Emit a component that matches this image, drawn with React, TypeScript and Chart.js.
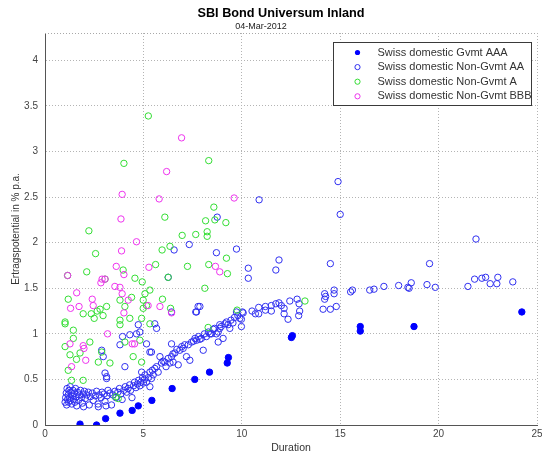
import { useEffect, useRef } from "react";
import { Chart, registerables } from "chart.js";

Chart.register(...registerables);

const TITLE = "SBI Bond Universum Inland";
const SUBTITLE = "04-Mar-2012";
const X_LABEL = "Duration";
const Y_LABEL = "Ertragspotential in % p.a.";
const SERIES_NAMES = [
  "Swiss domestic Gvmt AAA",
  "Swiss domestic Non-Gvmt AA",
  "Swiss domestic Non-Gvmt A",
  "Swiss domestic Non-Gvmt BBB",
];
const X_TICKS = [0, 5, 10, 15, 20, 25];
const Y_TICKS = [0, 0.5, 1, 1.5, 2, 2.5, 3, 3.5, 4];
const X_MAX = 25;
const Y_MAX = 4.3;

// [duration, yield potential]
const gvmtAAA: number[][] = [
  [1.78, 0.01], [2.62, 0.0], [3.08, 0.07], [3.81, 0.13], [4.43, 0.16], [4.74, 0.21],
  [5.43, 0.27], [6.46, 0.4], [7.61, 0.5], [8.36, 0.58], [9.26, 0.68], [9.32, 0.74],
  [12.52, 0.96], [12.57, 0.98], [16.02, 1.03], [16.02, 1.08], [18.75, 1.08], [24.23, 1.24],
];

const nonGvmtAA: number[][] = [
  [1.02, 0.25], [1.05, 0.3], [1.08, 0.35], [1.1, 0.22], [1.12, 0.4], [1.15, 0.28], [1.18, 0.33],
  [1.2, 0.25], [1.22, 0.38], [1.25, 0.3], [1.28, 0.42], [1.3, 0.27], [1.33, 0.35], [1.36, 0.23],
  [1.4, 0.32], [1.42, 0.38], [1.45, 0.28], [1.5, 0.35], [1.52, 0.25], [1.55, 0.4], [1.6, 0.31],
  [1.61, 0.21], [1.65, 0.36], [1.7, 0.27], [1.75, 0.33], [1.8, 0.38], [1.85, 0.3], [1.9, 0.24],
  [1.95, 0.34], [1.96, 0.2], [2.0, 0.37], [2.05, 0.29], [2.12, 0.33], [2.2, 0.36], [2.25, 0.22],
  [2.3, 0.31], [2.4, 0.35], [2.45, 0.27], [2.55, 0.32], [2.62, 0.37], [2.7, 0.23], [2.71, 0.2],
  [2.75, 0.33], [2.85, 0.3], [2.9, 0.36], [3.0, 0.34], [3.05, 0.26], [3.1, 0.21], [3.15, 0.32],
  [3.2, 0.38], [3.3, 0.35], [3.38, 0.22], [3.45, 0.33], [3.55, 0.37], [3.6, 0.3], [3.7, 0.36],
  [3.78, 0.4], [3.85, 0.34], [3.92, 0.28], [4.0, 0.38], [4.08, 0.42], [4.15, 0.36], [4.22, 0.4],
  [4.3, 0.44], [4.35, 0.38], [4.42, 0.3], [4.5, 0.43], [4.55, 0.47], [4.62, 0.41], [4.7, 0.45],
  [4.75, 0.49], [4.82, 0.43], [4.88, 0.47], [4.95, 0.52], [5.0, 0.46], [5.05, 0.5],
  [3.05, 0.57], [3.13, 0.53], [3.13, 0.51], [4.06, 0.64], [4.91, 0.58], [2.96, 0.75], [2.88, 0.82],
  [3.81, 0.88], [3.94, 0.97], [4.31, 0.99], [4.65, 1.0], [4.74, 1.1], [4.82, 1.02], [5.16, 0.89],
  [5.33, 0.8], [5.41, 0.8],
  [5.08, 0.55], [5.16, 0.47], [5.25, 0.52], [5.33, 0.58], [5.33, 0.42], [5.41, 0.51], [5.45, 0.6],
  [5.5, 0.55], [5.58, 0.62], [5.67, 0.64], [5.75, 0.58], [5.84, 0.75], [5.92, 0.68], [6.0, 0.7],
  [6.09, 0.69], [6.15, 0.64], [6.26, 0.73], [6.35, 0.68], [6.43, 0.75], [6.5, 0.78], [6.51, 0.69],
  [6.6, 0.79], [6.7, 0.83], [6.77, 0.66], [6.85, 0.82], [6.95, 0.86], [7.02, 0.84], [7.1, 0.88],
  [7.19, 0.75], [7.28, 0.88], [7.36, 0.71], [7.45, 0.91], [7.55, 0.92], [7.62, 0.95], [7.7, 0.93],
  [7.8, 0.97], [7.87, 0.94], [7.95, 0.95], [8.04, 0.82], [8.1, 1.0], [8.2, 0.97], [8.3, 1.02],
  [8.38, 1.0], [8.46, 1.0], [8.55, 1.05], [8.62, 1.06], [8.71, 1.0], [8.8, 1.02], [8.8, 0.91],
  [8.88, 1.1], [8.88, 1.06], [8.95, 1.08], [9.05, 0.95], [9.14, 1.11], [9.22, 1.13], [9.3, 1.1],
  [9.39, 1.06], [9.45, 1.15], [9.55, 1.12], [9.63, 1.18], [9.73, 1.24], [9.8, 1.2], [9.9, 1.17],
  [9.98, 1.16], [9.98, 1.08], [10.03, 1.24],
  [5.58, 1.11], [5.67, 1.06], [6.43, 0.89], [6.43, 1.24], [6.26, 1.62], [7.66, 1.24], [7.7, 1.24],
  [7.78, 1.3], [7.87, 1.3],
  [8.75, 2.28], [7.33, 1.98], [6.56, 1.92], [8.71, 1.89], [9.73, 1.93], [10.33, 1.72], [10.33, 1.61],
  [10.88, 2.47], [11.89, 1.81], [11.73, 1.7], [14.5, 1.77], [14.89, 2.67], [15.0, 2.31],
  [10.07, 1.23], [10.52, 1.25], [10.69, 1.22], [10.86, 1.29], [10.86, 1.22], [11.2, 1.3],
  [11.2, 1.26], [11.5, 1.31], [11.5, 1.25], [11.73, 1.33], [11.89, 1.34], [12.01, 1.31],
  [12.15, 1.28], [12.15, 1.22], [12.35, 1.16], [12.44, 1.36], [12.81, 1.38], [12.91, 1.33],
  [12.94, 1.25], [12.89, 1.2], [14.13, 1.27], [14.21, 1.44], [14.21, 1.38], [14.26, 1.41],
  [14.5, 1.27], [14.69, 1.48], [14.69, 1.44], [14.8, 1.3], [15.53, 1.46], [15.62, 1.48],
  [16.5, 1.48], [16.72, 1.49], [17.22, 1.52], [17.97, 1.53], [18.44, 1.51], [18.5, 1.5],
  [18.61, 1.56], [19.41, 1.54], [19.54, 1.77], [19.83, 1.51], [21.49, 1.52], [21.83, 1.6],
  [21.9, 2.04], [22.2, 1.61], [22.39, 1.62], [22.62, 1.55], [22.96, 1.55], [23.01, 1.62],
  [23.77, 1.57],
];

const nonGvmtA: number[][] = [
  [5.25, 3.39], [4.01, 2.87], [8.32, 2.9], [8.58, 2.39], [6.09, 2.28], [2.23, 2.13], [8.16, 2.24],
  [8.63, 2.25], [9.19, 2.22], [6.97, 2.08], [7.66, 2.09], [8.24, 2.12], [8.24, 2.07], [6.35, 1.96],
  [5.95, 1.92], [2.57, 1.88], [2.12, 1.68], [7.24, 1.74], [8.32, 1.76], [9.22, 1.83], [9.27, 1.66],
  [5.62, 1.76], [3.97, 1.7], [4.57, 1.61], [4.94, 1.57], [8.12, 1.5], [5.33, 1.48], [5.08, 1.44],
  [5.97, 1.38], [1.18, 1.38], [4.4, 1.4], [3.81, 1.37], [1.15, 1.64], [6.26, 1.62], [3.05, 1.6],
  [1.94, 1.22], [2.35, 1.22], [2.5, 1.17], [2.65, 1.25], [2.8, 1.27], [2.95, 1.2], [3.13, 1.3],
  [1.02, 1.11], [1.02, 1.13], [1.44, 1.04], [1.44, 0.95], [1.02, 0.86], [1.27, 0.77], [1.78, 0.79],
  [1.6, 0.72], [1.18, 0.6], [1.35, 0.49], [1.94, 0.49], [2.28, 0.91], [2.71, 0.69], [2.88, 0.8],
  [3.3, 0.68], [3.81, 1.1], [3.81, 1.15], [4.31, 1.17], [4.06, 0.91], [4.48, 0.75], [4.82, 0.93],
  [3.72, 0.29], [3.6, 0.31], [4.06, 1.3], [4.99, 1.28], [4.99, 1.37], [5.16, 1.31], [4.91, 1.17],
  [5.33, 1.11], [6.38, 1.28], [4.91, 0.69], [9.76, 1.26], [8.29, 1.07], [13.21, 1.36],
];

const nonGvmtBBB: number[][] = [
  [6.94, 3.15], [6.18, 2.78], [3.92, 2.53], [5.8, 2.48], [9.61, 2.49], [3.86, 2.26], [4.65, 2.01],
  [3.89, 1.91], [3.62, 1.74], [5.28, 1.73], [8.66, 1.74], [8.88, 1.68], [4.01, 1.65], [2.84, 1.56],
  [2.9, 1.6], [3.55, 1.52], [3.81, 1.51], [1.61, 1.45], [3.92, 1.44], [2.4, 1.38], [4.23, 1.37],
  [1.73, 1.3], [2.45, 1.31], [1.3, 1.28], [4.01, 1.23], [3.18, 1.0], [1.27, 0.89], [1.94, 0.87],
  [1.98, 0.84], [1.35, 0.64], [2.07, 0.71], [4.43, 0.89], [4.55, 0.89], [5.84, 1.3], [6.43, 1.23],
  [5.24, 1.31], [1.15, 1.64], [3.05, 1.6],
];

const SERIES_DATA = [gvmtAAA, nonGvmtAA, nonGvmtA, nonGvmtBBB];
const SERIES_COLORS = ["#0000ff", "#3030f0", "#33dd33", "#ee33ee"];
const SERIES_FILLED = [true, false, false, false];

const FONT = "'Liberation Sans', Arial, Helvetica, sans-serif";

const titlePlugin = {
  id: "matlabTitle",
  afterDraw(chart: any) {
    const { ctx } = chart;
    ctx.save();
    ctx.textAlign = "center";
    ctx.textBaseline = "middle";
    ctx.fillStyle = "#000000";
    ctx.font = `bold 12.7px ${FONT}`;
    ctx.fillText(TITLE, 281, 13);
    ctx.fillStyle = "#222222";
    ctx.font = `9px ${FONT}`;
    ctx.fillText(SUBTITLE, 261, 26.5);
    ctx.restore();
  },
};

const framePlugin = {
  id: "frame",
  beforeDatasetsDraw(chart: any) {
    const { ctx, chartArea } = chart;
    ctx.save();
    ctx.strokeStyle = "#a8a8a8";
    ctx.lineWidth = 1;
    ctx.setLineDash([1, 2]);
    ctx.beginPath();
    ctx.moveTo(chartArea.left, Math.round(chartArea.top) + 0.5);
    ctx.lineTo(chartArea.right, Math.round(chartArea.top) + 0.5);
    ctx.stroke();
    ctx.restore();
  },
};

const legendPlugin = {
  id: "boxLegend",
  afterDraw(chart: any) {
    const { ctx, chartArea } = chart;
    const w = 198;
    const h = 63;
    const x0 = Math.round(chartArea.right - 6 - w) + 0.5;
    const y0 = Math.round(chartArea.top + 9) + 0.5;
    ctx.save();
    ctx.setLineDash([]);
    ctx.fillStyle = "#ffffff";
    ctx.fillRect(x0, y0, w, h);
    ctx.strokeStyle = "#3a3a3a";
    ctx.lineWidth = 1;
    ctx.strokeRect(x0, y0, w, h);
    ctx.font = `11px ${FONT}`;
    ctx.textBaseline = "middle";
    ctx.textAlign = "left";
    chart.data.datasets.forEach((ds: any, i: number) => {
      const cy = y0 + 10 + i * 14.6;
      const mx = x0 + 24;
      ctx.beginPath();
      ctx.arc(mx, cy, 2.6, 0, Math.PI * 2);
      if (SERIES_FILLED[i]) {
        ctx.fillStyle = SERIES_COLORS[i];
        ctx.fill();
      } else {
        ctx.strokeStyle = SERIES_COLORS[i];
        ctx.stroke();
      }
      ctx.fillStyle = "#333333";
      ctx.fillText(ds.label, x0 + 44, cy);
    });
    ctx.restore();
  },
};

export default function App() {
  const canvasRef = useRef<HTMLCanvasElement | null>(null);

  useEffect(() => {
    const canvas = canvasRef.current;
    if (!canvas) return;
    const datasets = SERIES_DATA.map((arr, i) => ({
      label: SERIES_NAMES[i],
      data: arr.map(([x, y]) => ({ x, y })),
      pointRadius: 3.2,
      pointBorderWidth: 1,
      pointStyle: "circle",
      borderColor: SERIES_COLORS[i],
      backgroundColor: SERIES_FILLED[i] ? SERIES_COLORS[i] : "rgba(0,0,0,0)",
      showLine: false,
      order: 3 - i,
    }));

    const chart = new Chart(canvas, {
      type: "scatter",
      data: { datasets },
      options: {
        responsive: false,
        animation: false,
        events: [],
        layout: { padding: { left: 0, right: 4, top: 33, bottom: 0 } },
        plugins: {
          legend: { display: false },
          tooltip: { enabled: false },
          title: { display: false },
        },
        scales: {
          x: {
            type: "linear",
            min: 0,
            max: X_MAX,
            afterBuildTicks: (scale: any) => {
              scale.ticks = X_TICKS.map((v) => ({ value: v }));
            },
            afterFit: (scale: any) => {
              scale.height = 33;
              scale.paddingLeft = 0;
              scale.paddingRight = 0;
            },
            grid: { color: "#b4b4b4", lineWidth: 1, drawTicks: false },
            border: { display: true, color: "#555555", width: 1, dash: [1, 2] },
            ticks: {
              color: "#444444",
              font: { family: FONT, size: 10 },
              padding: 3,
              maxRotation: 0,
              autoSkip: false,
              callback: (v: any) => String(v),
            },
            title: {
              display: true,
              text: X_LABEL,
              color: "#333333",
              font: { family: FONT, size: 10.5 },
              padding: 4,
            },
          },
          y: {
            type: "linear",
            min: 0,
            max: Y_MAX,
            afterBuildTicks: (scale: any) => {
              scale.ticks = Y_TICKS.map((v) => ({ value: v }));
            },
            afterFit: (scale: any) => {
              scale.width = 45;
              scale.paddingTop = 0;
              scale.paddingBottom = 0;
            },
            grid: { color: "#b4b4b4", lineWidth: 1, drawTicks: false },
            border: { display: true, color: "#555555", width: 1, dash: [1, 2] },
            ticks: {
              color: "#444444",
              font: { family: FONT, size: 10 },
              padding: 7,
              autoSkip: false,
              callback: (v: any) => String(v),
            },
            title: {
              display: true,
              text: Y_LABEL,
              color: "#333333",
              font: { family: FONT, size: 10 },
              padding: 10,
            },
          },
        },
      },
      plugins: [framePlugin, legendPlugin, titlePlugin],
    } as any);

    return () => chart.destroy();
  }, []);

  return (
    <div style={{ position: "fixed", left: 0, top: 0, width: 542, height: 458, background: "#ffffff" }}>
      <canvas ref={canvasRef} width={542} height={458} style={{ display: "block" }} />
    </div>
  );
}
